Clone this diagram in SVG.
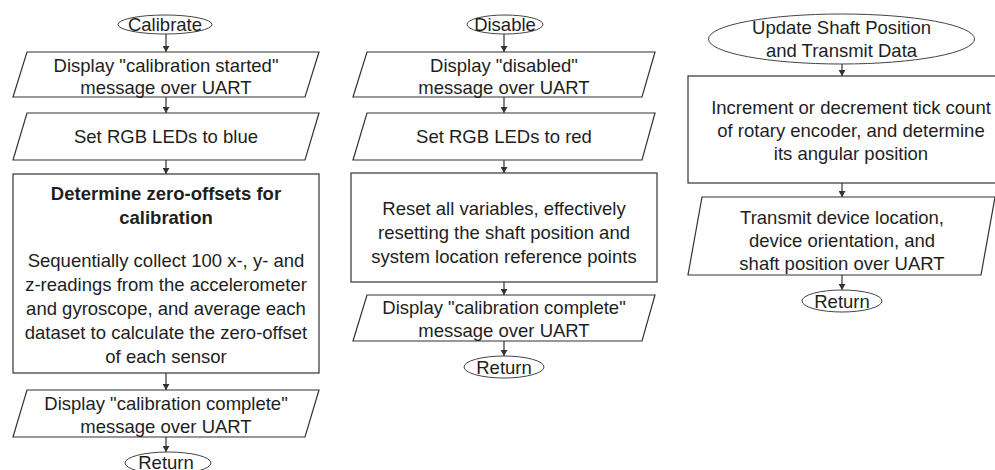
<svg xmlns="http://www.w3.org/2000/svg" width="995" height="470" viewBox="0 0 995 470">
<defs>
<marker id="ah" markerWidth="7" markerHeight="7" refX="6" refY="3.5" orient="auto" markerUnits="userSpaceOnUse">
<path d="M0,0 L6,3.5 L0,7 z" fill="#333"/>
</marker>
<style>
.sh{fill:#fff;stroke:#333;stroke-width:1.2}
.el{fill:#fff;stroke:#444;stroke-width:1}
.t{font-family:"Liberation Sans",Arial,sans-serif;font-size:18.5px;fill:#1e1e1e;text-anchor:middle}
.b{font-weight:bold}
.c{stroke:#333;stroke-width:1.2;fill:none;marker-end:url(#ah)}
</style>
</defs>
<rect width="995" height="470" fill="#fff"/>
<g id="connectors">
<line class="c" x1="166" y1="34" x2="166" y2="52"/>
<line class="c" x1="166" y1="97" x2="166" y2="113"/>
<line class="c" x1="166" y1="160" x2="166" y2="174"/>
<line class="c" x1="166" y1="373" x2="166" y2="390"/>
<line class="c" x1="166" y1="437" x2="166" y2="452"/>
<line class="c" x1="504" y1="34" x2="504" y2="52"/>
<line class="c" x1="504" y1="97" x2="504" y2="113"/>
<line class="c" x1="504" y1="160" x2="504" y2="173"/>
<line class="c" x1="504" y1="282" x2="504" y2="295"/>
<line class="c" x1="504" y1="341" x2="504" y2="356"/>
<line class="c" x1="842" y1="64" x2="842" y2="76"/>
<line class="c" x1="842" y1="183" x2="842" y2="197"/>
<line class="c" x1="842" y1="275" x2="842" y2="290"/>
</g>
<g id="calibrate">
<ellipse class="el" cx="165" cy="24.5" rx="47" ry="9.5"/>
<text class="t" x="165" y="31">Calibrate</text>
</g>
<g id="cal-display-started">
<polygon class="sh" points="27,52 319,52 305,97 13,97"/>
<text class="t" x="166" y="71.5">Display "calibration started"</text>
<text class="t" x="166" y="94">message over UART</text>
</g>
<g id="cal-set-blue">
<polygon class="sh" points="27,113 319,113 305,160 13,160"/>
<text class="t" x="166" y="143">Set RGB LEDs to blue</text>
</g>
<g id="cal-determine">
<rect class="sh" x="13" y="174" width="306" height="199"/>
<text class="t b" x="166" y="199.5">Determine zero-offsets for</text>
<text class="t b" x="166" y="224">calibration</text>
<text class="t" x="166" y="266.5">Sequentially collect 100 x-, y- and</text>
<text class="t" x="166" y="290.5">z-readings from the accelerometer</text>
<text class="t" x="166" y="314.5">and gyroscope, and average each</text>
<text class="t" x="166" y="338.5">dataset to calculate the zero-offset</text>
<text class="t" x="166" y="362.5">of each sensor</text>
</g>
<g id="cal-display-complete">
<polygon class="sh" points="27,390 319,390 305,437 13,437"/>
<text class="t" x="166" y="409.5">Display "calibration complete"</text>
<text class="t" x="166" y="432.5">message over UART</text>
</g>
<g id="cal-return">
<ellipse class="el" cx="168" cy="463" rx="43" ry="11"/>
<text class="t" x="166" y="469">Return</text>
</g>
<g id="disable">
<ellipse class="el" cx="505" cy="24.5" rx="38" ry="9.5"/>
<text class="t" x="505" y="31">Disable</text>
</g>
<g id="dis-display-disabled">
<polygon class="sh" points="367,52 655,52 642,97 353,97"/>
<text class="t" x="504" y="71.5">Display "disabled"</text>
<text class="t" x="504" y="94">message over UART</text>
</g>
<g id="dis-set-red">
<polygon class="sh" points="367,113 655,113 642,160 353,160"/>
<text class="t" x="504" y="143">Set RGB LEDs to red</text>
</g>
<g id="dis-reset">
<rect class="sh" x="351" y="173" width="306" height="109"/>
<text class="t" x="504" y="214.5">Reset all variables, effectively</text>
<text class="t" x="504" y="238.5">resetting the shaft position and</text>
<text class="t" x="504" y="262.5">system location reference points</text>
</g>
<g id="dis-display-complete">
<polygon class="sh" points="367,295 655,295 642,341 353,341"/>
<text class="t" x="504" y="313.5">Display "calibration complete"</text>
<text class="t" x="504" y="336.5">message over UART</text>
</g>
<g id="dis-return">
<ellipse class="el" cx="504" cy="367" rx="40" ry="11"/>
<text class="t" x="504" y="373.5">Return</text>
</g>
<g id="update">
<ellipse class="el" cx="841.5" cy="39" rx="133" ry="25"/>
<text class="t" x="841.5" y="33.5">Update Shaft Position</text>
<text class="t" x="841.5" y="56.5">and Transmit Data</text>
</g>
<g id="upd-increment">
<rect class="sh" x="688" y="76" width="326" height="107"/>
<text class="t" x="851" y="113.5">Increment or decrement tick count</text>
<text class="t" x="851" y="136.5">of rotary encoder, and determine</text>
<text class="t" x="851" y="159.5">its angular position</text>
</g>
<g id="upd-transmit">
<polygon class="sh" points="702,197 995,197 981,275 688,275"/>
<text class="t" x="842" y="223.5">Transmit device location,</text>
<text class="t" x="842" y="246.5">device orientation, and</text>
<text class="t" x="842" y="269.5">shaft position over UART</text>
</g>
<g id="upd-return">
<ellipse class="el" cx="842" cy="301" rx="40" ry="11"/>
<text class="t" x="842" y="307.5">Return</text>
</g>
</svg>
